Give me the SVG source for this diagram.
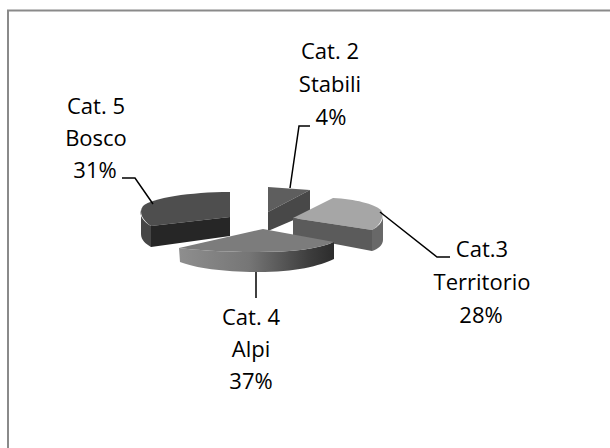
<svg xmlns="http://www.w3.org/2000/svg" width="610" height="448" viewBox="0 0 610 448">
<style>
.lbl{font-family:"Open Sans","Noto Sans",sans-serif;font-size:22px;fill:#000;text-anchor:middle}
.lead{fill:none;stroke:#000;stroke-width:1.5}
</style>
<defs>
<linearGradient id="wall4" x1="179" y1="0" x2="334" y2="0" gradientUnits="userSpaceOnUse">
<stop offset="0" stop-color="#8e8e8e"/>
<stop offset="0.45" stop-color="#767676"/>
<stop offset="0.85" stop-color="#3c3c3c"/>
<stop offset="1" stop-color="#2c2c2c"/>
</linearGradient>
</defs>
<rect x="0" y="0" width="610" height="448" fill="#fff"/>
<path d="M8,448 L8,10.5 L610,10.5" fill="none" stroke="#8a8a8a" stroke-width="2"/>

<g id="slice-cat2">
<path d="M268,187 L310,190 L268,212 Z" fill="#5e5e5e"/>
<path d="M268,212 L310,190 L310,213 L268,231 Z" fill="#484848"/>
</g>
<g id="slice-cat5">
<path d="M230,192 C190,192 152,198 143,206 C138,212 143,221 151,226 L230,217 Z" fill="#4e4e4e"/>
<path d="M141,210 C139,216 144,222 151,226 L151,247 C146,244 141,240 141,234 Z" fill="#464646"/>
<path d="M151,226 L230,217 L230,236 L151,247 Z" fill="#262626"/>
</g>
<g id="slice-cat3">
<path d="M293,218 L333,198 C355,199 374,204 381,210 C385,215 381,225 372,230 Z" fill="#a6a6a6"/>
<path d="M293,218 L372,230 L372,251 L293,236 Z" fill="#5b5b5b"/>
<path d="M372,230 C378,227 383,222 383,216 L383,240 C383,245 378,249 372,251 Z" fill="#686868"/>
</g>
<g id="slice-cat4">
<path d="M179,248 C195,250 222,252 258,252 C292,252 318,249 334,242 L334,259 C320,266 295,272 258,272 C225,272 195,268 180,262 Z" fill="url(#wall4)"/>
<path d="M263,229 L334,242 C318,249 292,252 258,252 C222,252 195,250 179,248 Z" fill="#7c7c7c"/>
</g>

<g id="connectors">
<path class="lead" d="M310,126 L299,126 L290,188"/>
<path class="lead" d="M122,178 L135,178 L153,204"/>
<path class="lead" d="M380,212 L437,257 L450,257"/>
<path class="lead" d="M256,272 L256,298"/>
</g>

<g id="label-cat2">
<text class="lbl" x="330" y="59">Cat. 2</text>
<text class="lbl" x="330" y="92">Stabili</text>
<text class="lbl" x="331" y="125">4%</text>
</g>
<g id="label-cat3">
<text class="lbl" x="482" y="257">Cat.3</text>
<text class="lbl" x="482" y="290">Territorio</text>
<text class="lbl" x="481" y="323">28%</text>
</g>
<g id="label-cat4">
<text class="lbl" x="251" y="325">Cat. 4</text>
<text class="lbl" x="251" y="357">Alpi</text>
<text class="lbl" x="251" y="389">37%</text>
</g>
<g id="label-cat5">
<text class="lbl" x="96" y="114">Cat. 5</text>
<text class="lbl" x="96" y="146">Bosco</text>
<text class="lbl" x="95" y="178">31%</text>
</g>
</svg>
